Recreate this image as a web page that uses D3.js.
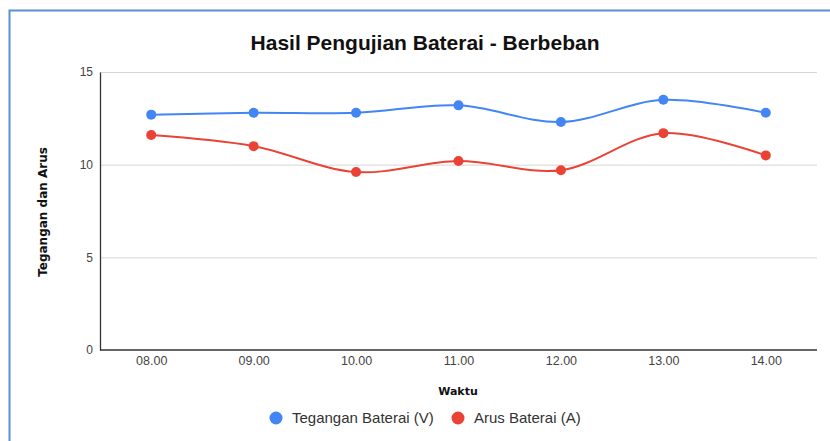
<!DOCTYPE html>
<html>
<head>
<meta charset="utf-8">
<script src="https://cdn.jsdelivr.net/npm/d3@7"></script>
<style>
  body { margin: 0; background: #fff; }
  svg { display: block; }
</style>
</head>
<body>
<svg id="diagram" width="830" height="441"></svg>
<script>
// data
var waktu = ["08.00", "09.00", "10.00", "11.00", "12.00", "13.00", "14.00"];
var tegangan = [12.7, 12.8, 12.8, 13.2, 12.3, 13.5, 12.8];
var arus = [11.6, 11.0, 9.6, 10.2, 9.7, 11.7, 10.5];
var yTicks = [0, 5, 10, 15];
var seriesNames = ["Tegangan Baterai (V)", "Arus Baterai (A)"];
var colors = ["#4285f4", "#ea4335"];

var svg = d3.select("#diagram");

// frame
svg.append("rect")
    .attr("x", 9.5).attr("y", 10.5)
    .attr("width", 840).attr("height", 460)
    .attr("fill", "none")
    .attr("stroke", "#5b8ed6")
    .attr("stroke-width", 2);

var plotLeft = 100, plotRight = 817, plotTop = 72, plotBottom = 350;

var xScale = d3.scalePoint().domain(waktu).range([plotLeft, plotRight]).padding(0.5);
var yScale = d3.scaleLinear().domain([0, 15]).range([plotBottom, plotTop]);

// title
svg.append("text")
    .attr("x", 425).attr("y", 50)
    .attr("text-anchor", "middle")
    .style("font-family", "Liberation Sans, Arial, sans-serif")
    .style("font-size", "21px")
    .style("font-weight", "bold")
    .attr("fill", "#111")
    .text("Hasil Pengujian Baterai - Berbeban");

// gridlines
svg.append("g")
    .selectAll("line")
    .data(yTicks.filter(function (d) { return d > 0; }))
    .enter().append("line")
    .attr("x1", plotLeft).attr("x2", plotRight)
    .attr("y1", function (d) { return yScale(d) + 0.5; })
    .attr("y2", function (d) { return yScale(d) + 0.5; })
    .attr("stroke", "#d6d6d6")
    .attr("stroke-width", 1);

// y axis
var yAxis = svg.append("g")
    .attr("transform", "translate(" + plotLeft + ",0)")
    .call(d3.axisLeft(yScale).tickValues(yTicks).tickSize(0).tickPadding(7));
yAxis.select(".domain").attr("stroke", "#333").attr("stroke-width", 1.3);
yAxis.selectAll("text")
    .style("font-family", "Liberation Sans, Arial, sans-serif")
    .style("font-size", "12px")
    .attr("fill", "#444");

// x axis
var xAxis = svg.append("g")
    .attr("transform", "translate(0," + plotBottom + ")")
    .call(d3.axisBottom(xScale).tickSize(0).tickPadding(6));
xAxis.select(".domain").attr("d", "M" + plotLeft + ",0H" + plotRight).attr("stroke", "#333").attr("stroke-width", 1.5);
xAxis.selectAll("text")
    .style("font-family", "Liberation Sans, Arial, sans-serif")
    .style("font-size", "12.5px")
    .attr("fill", "#444");

// axis titles
svg.append("text")
    .attr("transform", "translate(47,212) rotate(-90)")
    .attr("text-anchor", "middle")
    .style("font-family", "DejaVu Sans, sans-serif")
    .style("font-size", "12px")
    .style("font-weight", "bold")
    .attr("fill", "#111")
    .text("Tegangan dan Arus");

svg.append("text")
    .attr("x", 458).attr("y", 395)
    .attr("text-anchor", "middle")
    .style("font-family", "DejaVu Sans, sans-serif")
    .style("font-size", "11px")
    .style("font-weight", "bold")
    .attr("fill", "#111")
    .text("Waktu");

// lines
var series = [tegangan, arus];
var line = d3.line()
    .x(function (d, i) { return xScale(waktu[i]); })
    .y(function (d) { return yScale(d); })
    .curve(d3.curveCatmullRom.alpha(0.5));

series.forEach(function (values, s) {
    svg.append("path")
        .datum(values)
        .attr("d", line)
        .attr("fill", "none")
        .attr("stroke", colors[s])
        .attr("stroke-width", 2);

    svg.append("g")
        .selectAll("circle")
        .data(values)
        .enter().append("circle")
        .attr("cx", function (d, i) { return xScale(waktu[i]); })
        .attr("cy", function (d) { return yScale(d); })
        .attr("r", 5)
        .attr("fill", colors[s]);
});

// legend
var legendX = [276, 458];
var legend = svg.append("g");
seriesNames.forEach(function (name, i) {
    legend.append("circle")
        .attr("cx", legendX[i]).attr("cy", 418)
        .attr("r", 6.5)
        .attr("fill", colors[i]);
    legend.append("text")
        .attr("x", legendX[i] + 16).attr("y", 423)
        .style("font-family", "Liberation Sans, Arial, sans-serif")
        .style("font-size", "15px")
        .attr("fill", "#333")
        .text(name);
});
</script>
</body>
</html>
